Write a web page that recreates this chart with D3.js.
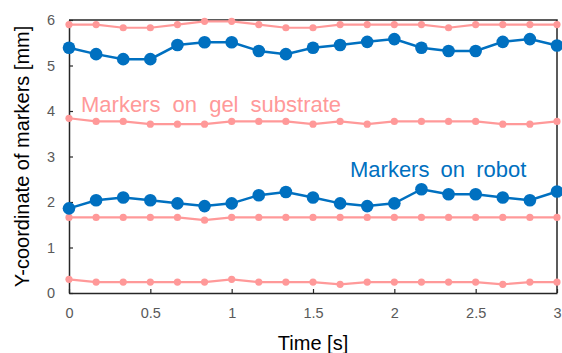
<!DOCTYPE html>
<html>
<head>
<meta charset="utf-8">
<script src="https://cdn.jsdelivr.net/npm/d3@7"></script>
<style>
  html, body { margin: 0; padding: 0; background: #fff; }
  svg { display: block; font-family: "Liberation Sans", Arial, sans-serif; }
</style>
</head>
<body>
<svg id="chart" width="562" height="353"></svg>
<script>
// Sampling times (s): 19 frames at 1/6 s
const times = d3.range(19).map(i => i / 6);

// Y-coordinates (mm) of the tracked markers
const gelTop    = [5.90, 5.90, 5.83, 5.83, 5.90, 5.97, 5.97, 5.90, 5.83, 5.83, 5.90, 5.90, 5.90, 5.90, 5.83, 5.90, 5.90, 5.90, 5.90];
const robotTop  = [5.39, 5.25, 5.14, 5.14, 5.45, 5.51, 5.51, 5.32, 5.25, 5.39, 5.45, 5.52, 5.58, 5.39, 5.32, 5.32, 5.52, 5.58, 5.44];
const gelUpper  = [3.84, 3.77, 3.77, 3.71, 3.71, 3.71, 3.77, 3.77, 3.77, 3.71, 3.77, 3.71, 3.77, 3.77, 3.77, 3.77, 3.71, 3.71, 3.77];
const robotLow  = [1.86, 2.04, 2.10, 2.04, 1.97, 1.91, 1.97, 2.15, 2.22, 2.10, 1.97, 1.91, 1.97, 2.28, 2.17, 2.17, 2.10, 2.04, 2.23];
const gelLower  = [1.66, 1.66, 1.66, 1.66, 1.66, 1.60, 1.66, 1.66, 1.66, 1.66, 1.66, 1.66, 1.66, 1.66, 1.66, 1.66, 1.66, 1.66, 1.66];
const gelBottom = [0.30, 0.24, 0.24, 0.24, 0.24, 0.24, 0.30, 0.24, 0.24, 0.24, 0.19, 0.24, 0.24, 0.24, 0.24, 0.24, 0.19, 0.24, 0.24];

const xTicks = [0, 0.5, 1, 1.5, 2, 2.5, 3];
const yTicks = [0, 1, 2, 3, 4, 5, 6];

const gelSeries = [gelTop, gelUpper, gelLower, gelBottom];
const robotSeries = [robotTop, robotLow];

const gelColor = "#ff9999";
const robotColor = "#0070c0";

const margin = { left: 69, right: 5, top: 20, bottom: 60 };
const W = 562, H = 353;
const svg = d3.select("#chart");

const x = d3.scaleLinear().domain([0, 3]).range([margin.left, W - margin.right]);
const y = d3.scaleLinear().domain([0, 6]).range([H - margin.bottom, margin.top]);
const fmt = d3.format("~g");

// Frame: top and right border
svg.append("path")
  .attr("d", `M${x(0)},${y(6)}H${x(3)}V${y(0)}`)
  .attr("fill", "none").attr("stroke", "#262626").attr("stroke-width", 1.5);

// Axes with inward ticks
const xAxis = svg.append("g")
  .attr("transform", `translate(0,${y(0)})`)
  .call(d3.axisBottom(x).tickValues(xTicks).tickSizeInner(-4).tickSizeOuter(0).tickPadding(12)
    .tickFormat(fmt));
const yAxis = svg.append("g")
  .attr("transform", `translate(${x(0)},0)`)
  .call(d3.axisLeft(y).tickValues(yTicks).tickSizeInner(-4).tickSizeOuter(0).tickPadding(14)
    .tickFormat(fmt));

[xAxis, yAxis].forEach(g => {
  g.select(".domain").attr("stroke", "#262626").attr("stroke-width", 1.5);
  g.selectAll(".tick line").attr("stroke", "#262626").attr("stroke-width", 1.2);
  g.selectAll(".tick text").attr("fill", "#595959").attr("font-size", 14.5)
    .attr("font-family", "Liberation Sans, Arial, sans-serif");
});
xAxis.selectAll(".tick text").attr("dy", "0.9em");

const line = d3.line().x((d, i) => x(times[i])).y(d => y(d));

// Gel substrate markers
gelSeries.forEach(vals => {
  const g = svg.append("g");
  g.append("path").datum(vals).attr("d", line)
    .attr("fill", "none").attr("stroke", gelColor).attr("stroke-width", 2.2);
  g.selectAll("circle").data(vals).join("circle")
    .attr("cx", (d, i) => x(times[i])).attr("cy", d => y(d)).attr("r", 3.6)
    .attr("fill", gelColor);
});

// Robot markers
robotSeries.forEach(vals => {
  const g = svg.append("g");
  g.append("path").datum(vals).attr("d", line)
    .attr("fill", "none").attr("stroke", robotColor).attr("stroke-width", 2.5);
  g.selectAll("circle").data(vals).join("circle")
    .attr("cx", (d, i) => x(times[i])).attr("cy", d => y(d)).attr("r", 6.3)
    .attr("fill", robotColor);
});

// Series annotations
svg.append("text").attr("x", 81).attr("y", 112)
  .attr("font-size", 22).attr("word-spacing", 6).attr("fill", gelColor)
  .text("Markers on gel substrate");
svg.append("text").attr("x", 350).attr("y", 177)
  .attr("font-size", 22).attr("word-spacing", 5).attr("fill", robotColor)
  .text("Markers on robot");

// Axis titles
svg.append("text").attr("x", (x(0) + x(3)) / 2).attr("y", 350)
  .attr("text-anchor", "middle").attr("font-size", 20).attr("fill", "#000")
  .text("Time [s]");
svg.append("text")
  .attr("transform", `translate(29,${(y(0) + y(6)) / 2}) rotate(-90)`)
  .attr("text-anchor", "middle").attr("font-size", 20).attr("fill", "#000")
  .text("Y-coordinate of markers [mm]");
</script>
</body>
</html>
